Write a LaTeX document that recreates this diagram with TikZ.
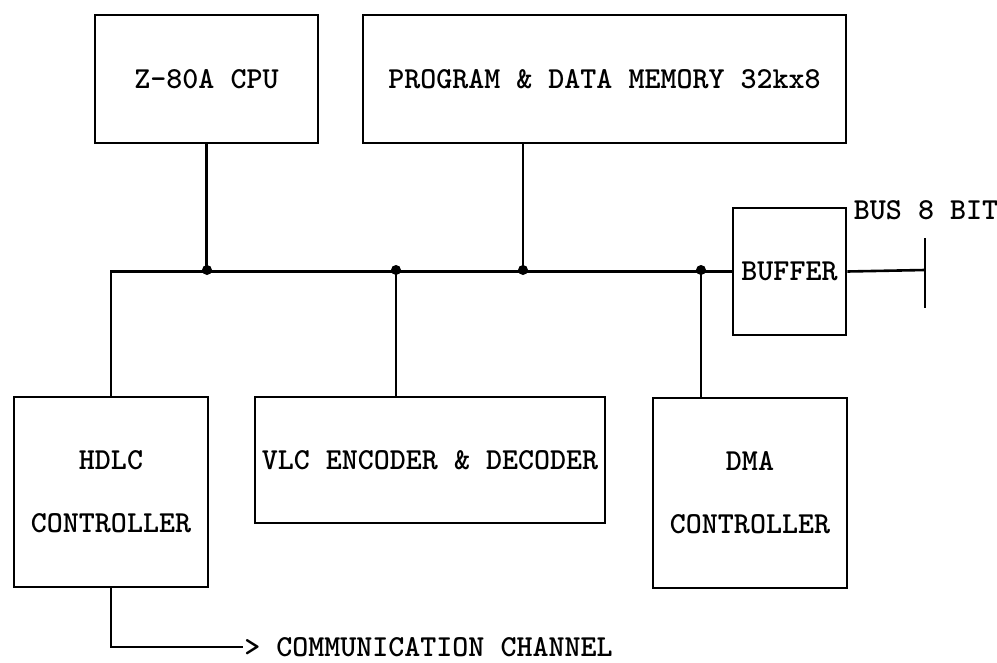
\documentclass[tikz,border=0pt]{standalone}
\usepackage{fontspec}
\usetikzlibrary{calc}

\begin{document}
\begin{tikzpicture}[x=1pt,y=-1pt,line width=2.6pt,
  tw/.style={inner sep=0pt,font=\ttfamily\bfseries\fontsize{30.5}{63}\selectfont},
  unitbox/.style={draw,rectangle,tw,align=center}]
  \useasboundingbox (0,0) rectangle (997,662);
  % blocks
  \node[unitbox,minimum width=223pt,minimum height=128pt] (cpu) at (206.5,79) {Z-80A CPU};
  \node[unitbox,minimum width=483pt,minimum height=128pt] (mem) at (604.5,79) {PROGRAM \& DATA MEMORY 32kx8};
  \node[unitbox,minimum width=113pt,minimum height=127pt] (buf) at (789.5,271.5) {BUFFER};
  \node[unitbox,minimum width=194pt,minimum height=190pt] (hdlc) at (111,492) {HDLC\\CONTROLLER};
  \node[unitbox,minimum width=350pt,minimum height=126pt] (vlc) at (430,460) {VLC ENCODER \& DECODER};
  \node[unitbox,minimum width=194pt,minimum height=190pt] (dma) at (750,493) {DMA\\CONTROLLER};
  \node[tw] (buslabel) at (926,210) {BUS 8 BIT};
  \node[tw,anchor=west] (chan) at (243,647) {> COMMUNICATION CHANNEL};
  % bus junctions
  \coordinate (j1) at (207,270);
  \coordinate (j2) at (396,270);
  \coordinate (j3) at (523,270);
  \coordinate (j4) at (701,270);
  \coordinate (tick) at (925,270);
  \draw (hdlc.north) |- (buf.west);
  \draw (cpu.south) -- (cpu.south |- j1);
  \draw (mem.south -| j3) -- (j3);
  \draw (j2) -- (j2 |- vlc.north);
  \draw (j4) -- (j4 |- dma.north);
  \draw (buf.east) -- (tick);
  \draw ($(tick)+(0,-32)$) -- ($(tick)+(0,38)$);
  \foreach \j in {j1,j2,j3,j4}
    \fill (\j) circle (5);
  \draw (hdlc.south) |- (chan.west);
\end{tikzpicture}
\end{document}
